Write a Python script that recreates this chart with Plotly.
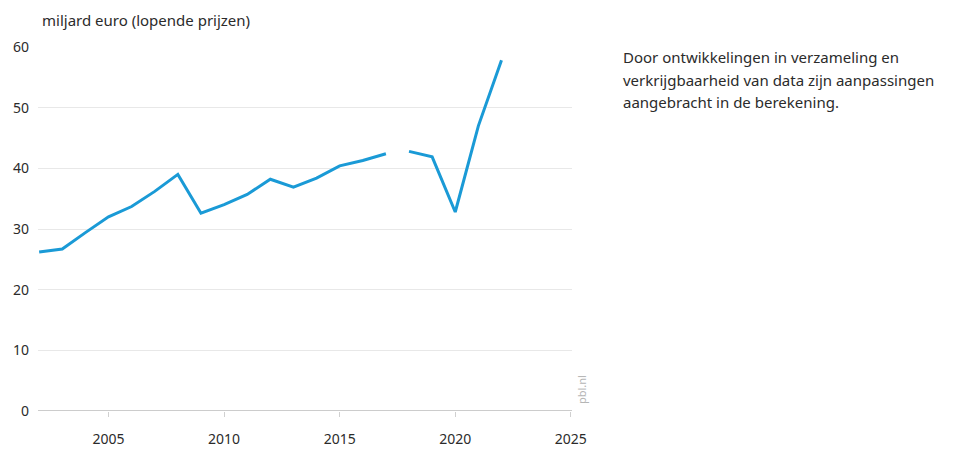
import plotly.graph_objects as go

# Yearly values, miljard euro (lopende prijzen); the series is split where the
# calculation method changed.
years_old = [2002, 2003, 2004, 2005, 2006, 2007, 2008, 2009, 2010, 2011, 2012, 2013, 2014, 2015, 2016, 2017]
values_old = [26.2, 26.7, 29.4, 32.0, 33.7, 36.2, 39.0, 32.6, 34.0, 35.7, 38.2, 36.9, 38.4, 40.4, 41.3, 42.4]
years_new = [2018, 2019, 2020, 2021, 2022]
values_new = [42.8, 41.9, 32.8, 47.0, 57.8]

x_ticks = [2005, 2010, 2015, 2020, 2025]
y_ticks = [0, 10, 20, 30, 40, 50, 60]

y_title = "miljard euro (lopende prijzen)"
note_lines = [
    "Door ontwikkelingen in verzameling en",
    "verkrijgbaarheid van data zijn aanpassingen",
    "aangebracht in de berekening.",
]

LINE_COLOR = "#1a9ad6"
FONT = "Noto Sans"
TEXT_COLOR = "#2b2b2b"

fig = go.Figure()
for xs, ys in ((years_old, values_old), (years_new, values_new)):
    fig.add_trace(go.Scatter(
        x=xs, y=ys, mode="lines",
        line=dict(color=LINE_COLOR, width=3),
        showlegend=False, hoverinfo="x+y",
    ))

# plot area in pixels: left 38, right 572, top 47, bottom 411
L, R, T, B = 38, 572, 47, 411
W, H = 967, 450
plot_h = B - T
plot_w = R - L

fig.update_layout(
    width=W, height=H,
    margin=dict(l=L, r=W - R, t=T, b=H - B, pad=0),
    paper_bgcolor="white", plot_bgcolor="white",
    font=dict(family=FONT, size=14, color=TEXT_COLOR),
    xaxis=dict(
        range=[2001.95, 2025.05],
        tickvals=x_ticks,
        ticks="outside", ticklen=5, tickcolor="#d0d0d0", tickwidth=1,
        ticklabelstandoff=10,
        showgrid=False, zeroline=False,
        showline=False, automargin=False,
        tickfont=dict(size=14, color=TEXT_COLOR),
        fixedrange=True,
    ),
    yaxis=dict(
        range=[0, 60],
        tickvals=y_ticks,
        showgrid=True, gridcolor="#e8e8e8", gridwidth=1,
        zeroline=False, showline=False, automargin=False,
        ticks="", ticklabelstandoff=8,
        tickfont=dict(size=14, color=TEXT_COLOR),
        fixedrange=True,
    ),
)

# baseline at zero
fig.add_shape(type="line", xref="paper", yref="y", x0=0, x1=1, y0=0, y1=0,
              line=dict(color="#9a9a9a", width=1.2), layer="below")

fig.add_annotation(
    text=y_title, xref="paper", yref="paper",
    x=(40 - L) / plot_w, y=(B - 20) / plot_h,
    xanchor="left", yanchor="middle", showarrow=False,
    font=dict(size=15, color=TEXT_COLOR, family=FONT),
)

for i, line in enumerate(note_lines):
    fig.add_annotation(
        text=line, xref="paper", yref="paper",
        x=(621 - L) / plot_w, y=(B - (57 + 22.5 * i)) / plot_h,
        xanchor="left", yanchor="middle", showarrow=False, align="left",
        font=dict(size=15, color=TEXT_COLOR, family=FONT),
    )

fig.add_annotation(
    text="pbl.nl", xref="paper", yref="paper",
    x=(581 - L) / plot_w, y=(B - 390) / plot_h,
    xanchor="center", yanchor="middle", showarrow=False, textangle=-90,
    font=dict(size=11, color="#b5b5b5", family=FONT),
)

fig.write_html("out.html")
